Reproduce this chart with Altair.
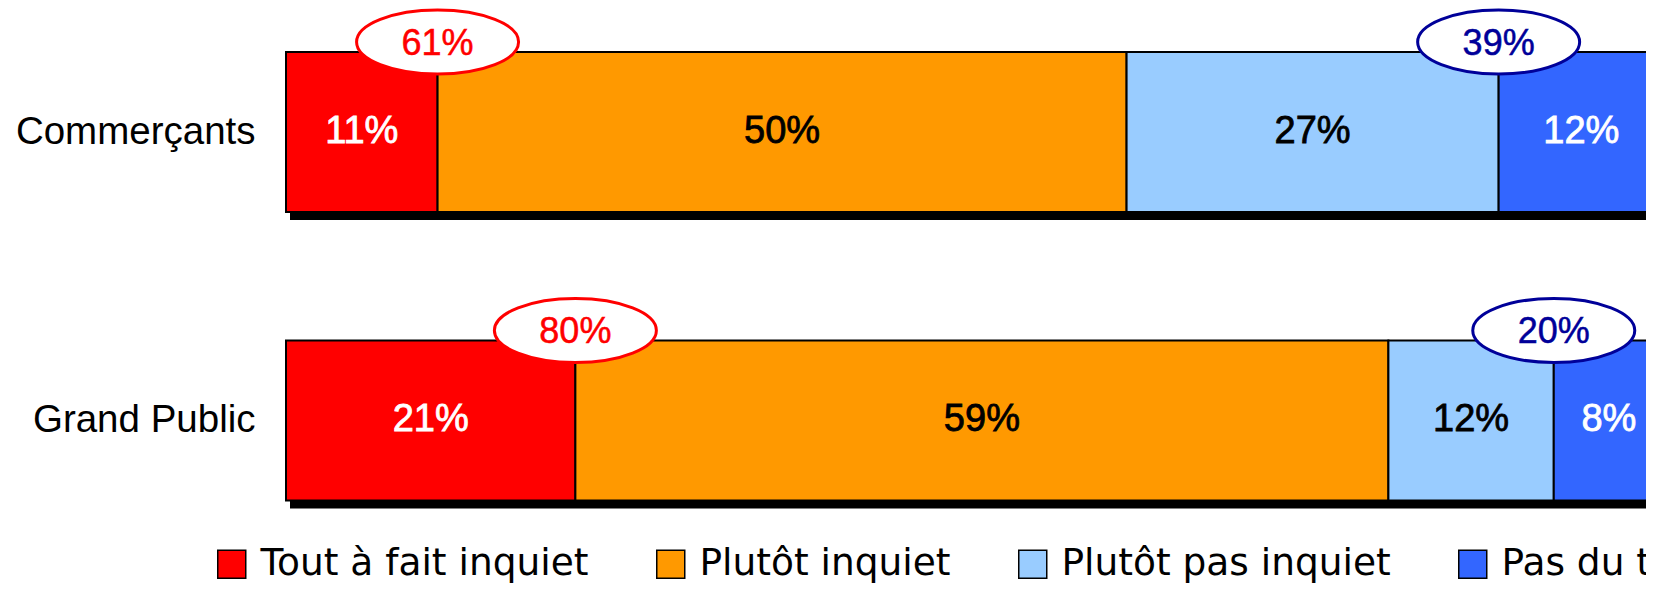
import altair as alt
import pandas as pd

categories = ["Commerçants", "Grand Public"]
levels = ["Tout à fait inquiet", "Plutôt inquiet", "Plutôt pas inquiet", "Pas du tout inquiet"]
commercants = [11, 50, 27, 12]
grand_public = [21, 59, 12, 8]
inquiet_totals = [61, 80]
pas_inquiet_totals = [39, 20]
level_colors = ["#FF0000", "#FF9900", "#99CCFF", "#3366FF"]
label_colors = ["#FFFFFF", "#000000", "#000000", "#FFFFFF"]
oval_colors = ["#FF0000", "#000099"]

series = [commercants, grand_public]

rows = []
for cat, vals in zip(categories, series):
    for i, (lvl, v) in enumerate(zip(levels, vals)):
        rows.append({"cat": cat, "level": lvl, "order": i, "value": v,
                     "txt": f"{v}%", "lcolor": label_colors[i]})
seg = pd.DataFrame(rows)

shadow = pd.DataFrame({"cat": categories, "total": [sum(v) for v in series]})

ov_rows = []
for cat, vals, a, b in zip(categories, series, inquiet_totals, pas_inquiet_totals):
    ov_rows.append({"cat": cat, "pos": vals[0], "txt": f"{a}%", "ocolor": oval_colors[0]})
    ov_rows.append({"cat": cat, "pos": sum(vals[:3]), "txt": f"{b}%", "ocolor": oval_colors[1]})
ovals = pd.DataFrame(ov_rows)

LABEL_FONT = "Liberation Sans"

xscale = alt.Scale(domain=[0, 100], range=[0, 1378], nice=False, zero=True)
yscale = alt.Scale(domain=categories, range=[44, 492.5], paddingInner=0.4454, paddingOuter=0)
yaxis = alt.Axis(title=None, domain=False, ticks=False, labelPadding=31,
                 labelFont=LABEL_FONT, labelFontSize=38.5, labelColor="#000000",
                 labelAlign="right", labelBaseline="middle", grid=False,
                 labelLimit=1000)


def Y(**kw):
    return alt.Y("cat:N", sort=categories, scale=yscale, axis=yaxis, **kw)


shadow_layer = alt.Chart(shadow).mark_bar(color="#000000", xOffset=4, yOffset=8).encode(
    x=alt.X("total:Q", scale=xscale, axis=None),
    y=Y(),
)

bars = alt.Chart(seg).transform_stack(
    stack="value", groupby=["cat"], as_=["start", "end"],
    sort=[alt.SortField("order", order="ascending")],
).mark_bar(stroke="#000000", strokeWidth=2, opacity=1).encode(
    x=alt.X("start:Q", scale=xscale, axis=None),
    x2="end:Q",
    y=Y(),
    color=alt.Color(
        "level:N",
        scale=alt.Scale(domain=levels, range=level_colors),
        sort=levels,
        legend=alt.Legend(
            title=None, orient="none", legendX=-73, legendY=537,
            direction="horizontal", columns=4, padding=0,
            symbolType="square", symbolSize=784, symbolStrokeColor="#000000",
            symbolStrokeWidth=1.5, symbolOpacity=1,
            labelFont="DejaVu Sans", labelFontSize=37.5, labelColor="#000000",
            labelOffset=10, columnPadding=63, labelLimit=2000,
        ),
    ),
)

seg_text = alt.Chart(seg).transform_stack(
    stack="value", groupby=["cat"], as_=["start", "end"],
    sort=[alt.SortField("order", order="ascending")],
).transform_calculate(mid="(datum.start + datum.end) / 2").mark_text(
    font=LABEL_FONT, fontSize=38, baseline="middle", align="center", strokeWidth=0.8,
).encode(
    x=alt.X("mid:Q", scale=xscale, axis=None),
    y=Y(),
    text="txt:N",
    fill=alt.Fill("lcolor:N", scale=None),
    stroke=alt.Stroke("lcolor:N", scale=None),
)

k = 0.395
c = 0.5523
ellipse_path = (
    f"M 1 0 C 1 {k*c:.4f} {c} {k} 0 {k} "
    f"C {-c} {k} -1 {k*c:.4f} -1 0 "
    f"C -1 {-k*c:.4f} {-c} {-k} 0 {-k} "
    f"C {c} {-k} 1 {-k*c:.4f} 1 0 Z"
)

oval_layer = alt.Chart(ovals).mark_point(
    shape=ellipse_path, size=162 * 162, filled=True, fill="#FFFFFF",
    fillOpacity=1, opacity=1, strokeWidth=3, yOffset=-10,
).encode(
    x=alt.X("pos:Q", scale=xscale, axis=None),
    y=Y(bandPosition=0),
    stroke=alt.Stroke("ocolor:N", scale=None),
)

oval_text = alt.Chart(ovals).mark_text(
    font=LABEL_FONT, fontSize=36, baseline="middle", align="center", yOffset=-8,
    strokeWidth=0.5,
).encode(
    x=alt.X("pos:Q", scale=xscale, axis=None),
    y=Y(bandPosition=0),
    text="txt:N",
    fill=alt.Fill("ocolor:N", scale=None),
    stroke=alt.Stroke("ocolor:N", scale=None),
)

chart = alt.layer(shadow_layer, bars, seg_text, oval_layer, oval_text).properties(
    width=1360, height=575,
    autosize=alt.AutoSizeParams(type="none"),
    padding={"left": 278, "top": 0, "right": 0, "bottom": 0},
    background="#FFFFFF",
).configure_view(stroke=None)

chart.save("out.html", embed_options={"renderer": "svg", "actions": False})
